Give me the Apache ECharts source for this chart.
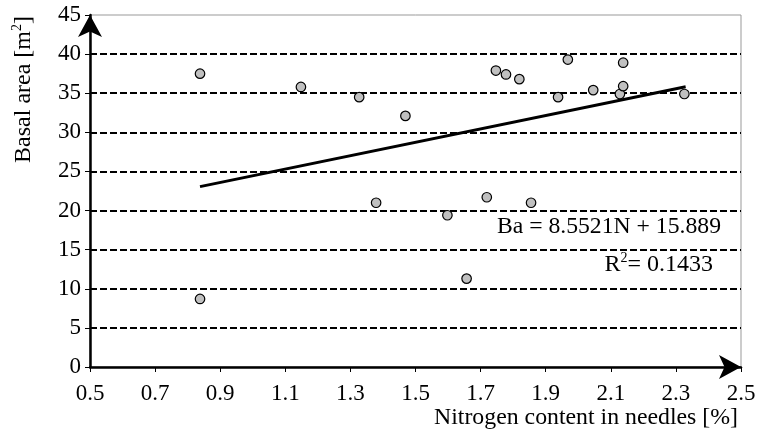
<!DOCTYPE html>
<html>
<head>
<meta charset="utf-8">
<script src="https://cdn.jsdelivr.net/npm/echarts@6/dist/echarts.min.js"></script>
<style>
  html, body { margin: 0; padding: 0; background: #fff; }
  #chart { width: 767px; height: 436px; }
</style>
</head>
<body>
<div id="chart"></div>
<script>
// nitrogen content in needles [%] and basal area [m2]
const nitrogen = [0.838, 0.838, 1.148, 1.327, 1.379, 1.469, 1.598, 1.657, 1.719, 1.747,
                  1.778, 1.819, 1.855, 1.938, 1.968, 2.046, 2.128, 2.138, 2.138, 2.326];
const basalArea = [37.5, 8.7, 35.8, 34.5, 21.0, 32.1, 19.4, 11.3, 21.7, 37.9,
                   37.4, 36.8, 21.0, 34.5, 39.3, 35.4, 34.9, 38.9, 35.9, 34.9];

// trend line end points (Ba = 8.5521N + 15.889)
const trendX = [0.838, 2.33];
const trendY = [23.06, 35.82];

// tick labels
const xTicks = [0.5, 0.7, 0.9, 1.1, 1.3, 1.5, 1.7, 1.9, 2.1, 2.3, 2.5];

const FONT = 'Liberation Serif';
const chart = echarts.init(document.getElementById('chart'));

const supRich = {
  a: { fontFamily: FONT, fontSize: 24, lineHeight: 27, fill: '#000' },
  s: { fontFamily: FONT, fontSize: 14, lineHeight: 27, verticalAlign: 'top', fill: '#000' }
};

const options = {
  animation: false,
  backgroundColor: '#fff',
  grid: {
    left: 90, right: 26, top: 15, bottom: 69,
    outerBoundsMode: 'none',
    containLabel: false,
    show: true,
    borderColor: '#999',
    borderWidth: 1
  },
  xAxis: {
    type: 'value',
    min: 0.5,
    max: 2.5,
    interval: 0.1,
    axisLine: {
      lineStyle: { color: '#000', width: 2.5 },
      symbol: ['none', 'arrow'],
      symbolSize: [18, 22]
    },
    axisTick: {
      show: true, length: 5, inside: false,
      customValues: xTicks,
      lineStyle: { color: '#000', width: 1 }
    },
    axisLabel: {
      customValues: xTicks,
      margin: 15,
      fontFamily: FONT, fontSize: 23, color: '#000',
      formatter: v => v.toFixed(1)
    },
    splitLine: { show: false }
  },
  yAxis: {
    type: 'value',
    min: 0,
    max: 45,
    interval: 5,
    axisLine: {
      show: true,
      lineStyle: { color: '#000', width: 2.5 },
      symbol: ['none', 'arrow'],
      symbolSize: [18, 22]
    },
    axisTick: {
      show: true, length: 5,
      lineStyle: { color: '#000', width: 1 }
    },
    axisLabel: {
      margin: 9,
      padding: [8, 0, 0, 0],
      fontFamily: FONT, fontSize: 23, color: '#000'
    },
    splitLine: {
      show: true,
      showMinLine: false,
      showMaxLine: false,
      lineStyle: { color: '#000', width: 2, type: [7, 3] }
    }
  },
  graphic: [
    {
      // y axis title
      type: 'text',
      x: 24, y: 16,
      rotation: Math.PI / 2,
      style: {
        text: '{a|Basal area [m}{s|2}{a|]}',
        align: 'right',
        verticalAlign: 'middle',
        fill: '#000',
        rich: supRich
      }
    },
    {
      // x axis title
      type: 'text',
      x: 738, y: 418,
      style: {
        text: 'Nitrogen content in needles [%]',
        font: '23.8px "Liberation Serif"',
        align: 'right',
        verticalAlign: 'middle',
        fill: '#000'
      }
    },
    {
      type: 'text',
      x: 721, y: 227,
      style: {
        text: 'Ba = 8.5521N + 15.889',
        font: '23.7px "Liberation Serif"',
        align: 'right',
        verticalAlign: 'middle',
        fill: '#000'
      }
    },
    {
      type: 'text',
      x: 713, y: 265,
      style: {
        text: '{a|R}{s|2}{a|= 0.1433}',
        align: 'right',
        verticalAlign: 'middle',
        fill: '#000',
        rich: supRich
      }
    }
  ],
  series: [
    {
      name: 'Trend',
      type: 'line',
      data: trendX.map((x, i) => [x, trendY[i]]),
      symbol: 'none',
      lineStyle: { color: '#000', width: 3 },
      z: 3
    },
    {
      name: 'Basal area',
      type: 'scatter',
      data: nitrogen.map((x, i) => [x, basalArea[i]]),
      symbol: 'circle',
      symbolSize: 9.5,
      itemStyle: { color: '#c0c0c0', borderColor: '#000', borderWidth: 1.2, opacity: 1 },
      z: 4
    }
  ]
};

chart.setOption(options);
</script>
</body>
</html>
